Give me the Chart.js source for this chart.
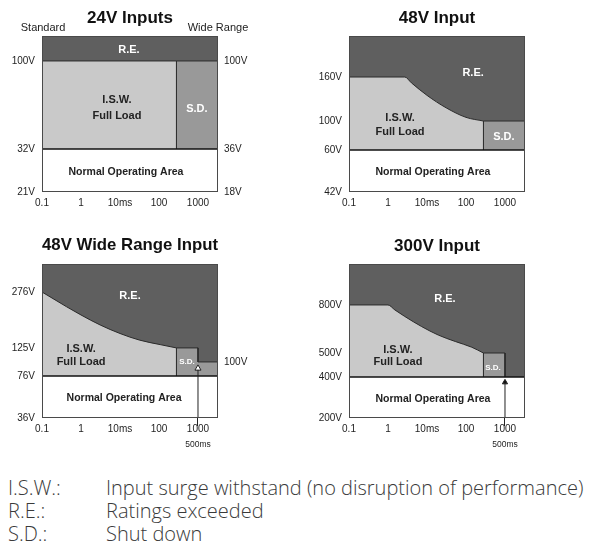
<!DOCTYPE html>
<html><head><meta charset="utf-8">
<title>Input surge withstand charts</title>
<script src="https://cdn.jsdelivr.net/npm/chart.js@4.4.1/dist/chart.umd.min.js"></script>
<style>
html,body{margin:0;padding:0;background:#fff}
body{width:590px;height:558px;position:relative;overflow:hidden}
canvas{position:absolute;display:block}
#legend{position:absolute;left:0;top:476px;width:590px;font-family:'Open Sans',sans-serif;font-weight:300;font-size:20px;line-height:23px;color:#3a3a3a}
.row{position:relative;height:23px;white-space:nowrap}
.k{position:absolute;left:8px;top:0}
.v{position:absolute;left:106px;top:0}
</style></head><body>
<canvas id="p1" width="260" height="215" style="left:0;top:0"></canvas>
<canvas id="p2" width="260" height="215" style="left:295px;top:0"></canvas>
<canvas id="p3" width="260" height="235" style="left:0;top:225px"></canvas>
<canvas id="p4" width="260" height="235" style="left:295px;top:225px"></canvas>
<div id="legend"></div>
<script>
// ---------- data ----------
const xTicks = [0.1, 1, 10, 100, 1000];
const xTickLabels = ['0.1', '1', '10ms', '100', '1000'];
const xMin = 0.1, xMax = 3260;

const titles = ['24V Inputs', '48V Input', '48V Wide Range Input', '300V Input'];

// 24V Inputs
const p1LeftTicks = [21, 32, 100];
const p1RightTicks = [18, 36, 100];
const p1Base = 32;
const p1IswX = [0.1, 280];
const p1IswY = [100, 100];
const p1SdX = [280, 280, 3260, 3260];
const p1SdY = [32, 100, 100, 32];

// 48V Input
const p2LeftTicks = [42, 60, 100, 160];
const p2Base = 60;
const p2IswX = [0.1, 2.7, 4, 10, 31, 100, 280];
const p2IswY = [160, 160, 152, 135, 118, 105, 100];
const p2SdX = [280, 280, 3260, 3260];
const p2SdY = [60, 100, 100, 60];

// 48V Wide Range Input
const p3LeftTicks = [36, 76, 125, 276];
const p3RightTicks = [100];
const p3Base = 76;
const p3IswX = [0.1, 0.43, 1, 3.1, 10, 32, 107, 280];
const p3IswY = [276, 236, 214, 187, 164, 146, 134, 125];
const p3SdX = [280, 280, 1000, 1000, 3260, 3260];
const p3SdY = [76, 125, 125, 100, 100, 76];
const p3ArrowX = [1000, 1000];
const p3ArrowY = [36, 89];

// 300V Input
const p4LeftTicks = [200, 400, 500, 800];
const p4Base = 400;
const p4IswX = [0.1, 1, 1.5, 2.7, 7.3, 19.5, 53, 141, 280];
const p4IswY = [800, 800, 769, 728, 665, 612, 572, 536, 500];
const p4SdX = [280, 280, 1000, 1000];
const p4SdY = [400, 500, 500, 400];
const p4ArrowX = [1000, 1000];
const p4ArrowY = [200, 374];

const legendKeys = ['I.S.W.:', 'R.E.:', 'S.D.:'];
const legendTexts = ['Input surge withstand (no disruption of performance)', 'Ratings exceeded', 'Shut down'];

// ---------- styling ----------
const COL = {re:'#5f5f5f', isw:'#c9c9c9', sd:'#999999', line:'#2b2b2b', base:'#111111', frame:'#4a4a4a', text:'#1e1e1e'};
const FONT = "'Liberation Sans', Arial, Helvetica, sans-serif";
Chart.defaults.font.family = FONT;
Chart.defaults.color = COL.text;

// piecewise-linear (schematic) value axis
class PiecewiseScale extends Chart.LinearScale {
  _dec(v) {
    const b = this.options.breaks;
    let i = 1;
    while (i < b.length - 1 && v > b[i][0]) i++;
    const v0 = b[i-1][0], d0 = b[i-1][1], v1 = b[i][0], d1 = b[i][1];
    return d0 + (v - v0) * (d1 - d0) / (v1 - v0);
  }
  getPixelForValue(value) {
    if (value === null || value === undefined || isNaN(value)) return NaN;
    return this.getPixelForDecimal(this._dec(value));
  }
  getValueForPixel(pixel) {
    const d = this.getDecimalForPixel(pixel);
    const b = this.options.breaks;
    let i = 1;
    while (i < b.length - 1 && d > b[i][1]) i++;
    const v0 = b[i-1][0], d0 = b[i-1][1], v1 = b[i][0], d1 = b[i][1];
    return v0 + (d - d0) * (v1 - v0) / (d1 - d0);
  }
}
PiecewiseScale.id = 'piecewise';
PiecewiseScale.defaults = {};
Chart.register(PiecewiseScale);

const decor = {
  id: 'decor',
  afterDatasetsDraw(chart, args, o) {
    const {ctx, chartArea: a} = chart;
    const w = a.right - a.left, h = a.bottom - a.top;
    ctx.save();
    ctx.strokeStyle = COL.frame; ctx.lineWidth = 1;
    ctx.strokeRect(Math.round(a.left) + 0.5, Math.round(a.top) + 0.5, Math.round(w) - 1, Math.round(h) - 1);
    ctx.textAlign = 'center'; ctx.textBaseline = 'middle';
    for (const t of (o.labels || [])) {
      ctx.font = t.font; ctx.fillStyle = t.color;
      ctx.fillText(t.text, a.left + t.fx * w, a.top + t.fy * h);
    }
    if (o.note) {
      ctx.font = '8.5px ' + FONT; ctx.fillStyle = COL.text;
      ctx.fillText(o.note.text, chart.scales.x.getPixelForValue(o.note.at), a.bottom + 26.5);
    }
    ctx.restore();
  }
};

const F_BIG = 'bold 11px ' + FONT, F_SMALL = 'bold 8px ' + FONT, F_NOA = 'bold 10.5px ' + FONT, F_SIDE = '11px ' + FONT;
const W = '#ffffff', D = '#222222';

function panel(id, p) {
  const pts = (xs, ys) => xs.map((x, i) => ({x, y: ys[i]}));
  const flat = y => [{x: xMin, y}, {x: xMax, y}];
  const ds = [];
  if (p.arrowX) ds.push({data: pts(p.arrowX, p.arrowY), borderColor: '#222', borderWidth: 1,
    pointRadius: [0, p.arrowR], pointStyle: 'triangle', pointBackgroundColor: p.arrowFill,
    pointBorderColor: '#222', pointBorderWidth: 1, fill: false, order: 0});
  ds.push({data: flat(p.base), borderColor: COL.base, borderWidth: 1.6, pointRadius: 0, fill: false, order: 1});
  ds.push({data: pts(p.sdX, p.sdY), backgroundColor: COL.sd, borderColor: COL.line, borderWidth: 1,
    pointRadius: 0, tension: 0, fill: {value: p.base}, order: 2});
  ds.push({data: pts(p.iswX, p.iswY), backgroundColor: COL.isw, borderColor: COL.line, borderWidth: 1,
    pointRadius: 0, cubicInterpolationMode: 'monotone', fill: {value: p.base}, order: 3});
  ds.push({data: flat(p.base), backgroundColor: COL.re, borderColor: 'rgba(0,0,0,0)', borderWidth: 0,
    pointRadius: 0, fill: 'end', order: 4});

  const yAxis = (ticks, breaks, pos, width, pad) => ({
    type: 'piecewise', position: pos, min: breaks[0][0], max: breaks[breaks.length - 1][0], breaks: breaks,
    afterBuildTicks: s => { s.ticks = ticks.map(v => ({value: v})); },
    afterFit: s => { s.width = width; },
    border: {display: false}, grid: {display: false, drawTicks: false},
    ticks: {autoSkip: false, padding: pad, font: {size: 10}, color: COL.text, callback: v => v + 'V'}
  });
  const scales = {
    x: {type: 'logarithmic', min: xMin, max: xMax,
      afterBuildTicks: s => { s.ticks = xTicks.map(v => ({value: v})); },
      afterFit: s => { s.height = p.xAxisH; },
      border: {display: false},
      grid: {drawOnChartArea: false, drawTicks: true, tickLength: 8, lineWidth: 1,
        color: c => (p.tickAt && c.tick && c.tick.value === p.tickAt) ? '#222' : 'rgba(0,0,0,0)'},
      ticks: {autoSkip: false, maxRotation: 0, padding: -2.5, font: {size: 10}, color: COL.text,
        callback: v => xTickLabels[xTicks.indexOf(v)]}
    },
    y: yAxis(p.leftTicks, p.breaks, 'left', p.leftW, 7)
  };
  if (p.rightTicks) scales.y2 = yAxis(p.rightTicks, p.rightBreaks, 'right', 42, 6);

  new Chart(document.getElementById(id), {
    type: 'line',
    data: {datasets: ds},
    options: {
      responsive: false, animation: false, events: [],
      layout: {padding: {right: p.padR || 0}},
      scales,
      plugins: {
        legend: {display: false}, tooltip: {enabled: false},
        title: {display: true, text: p.title, fullSize: false, color: '#111',
          font: {size: 17, weight: 'bold'}, padding: {top: p.tTop, bottom: p.tBot}},
        decor: {labels: p.labels, note: p.note}
      }
    },
    plugins: [decor]
  });
}

panel('p1', {
  title: titles[0], base: p1Base, iswX: p1IswX, iswY: p1IswY, sdX: p1SdX, sdY: p1SdY,
  leftTicks: p1LeftTicks, rightTicks: p1RightTicks,
  breaks: [[21, 0], [32, 0.276], [100, 0.84], [120, 1]],
  rightBreaks: [[18, 0], [36, 0.276], [100, 0.84], [120, 1]],
  leftW: 42, xAxisH: 23, tTop: 8, tBot: 7.6,
  labels: [
    {text: 'R.E.', fx: 0.494, fy: 0.09, font: F_BIG, color: W},
    {text: 'I.S.W.', fx: 0.426, fy: 0.41, font: F_BIG, color: D},
    {text: 'Full Load', fx: 0.426, fy: 0.513, font: F_BIG, color: D},
    {text: 'S.D.', fx: 0.88, fy: 0.468, font: F_BIG, color: W},
    {text: 'Normal Operating Area', fx: 0.477, fy: 0.872, font: F_NOA, color: D},
    {text: 'Standard', fx: 0.006, fy: -0.051, font: F_SIDE, color: D},
    {text: 'Wide Range', fx: 1.0, fy: -0.051, font: F_SIDE, color: D}
  ]
});

panel('p2', {
  title: titles[1], base: p2Base, iswX: p2IswX, iswY: p2IswY, sdX: p2SdX, sdY: p2SdY,
  leftTicks: p2LeftTicks,
  breaks: [[42, 0], [60, 0.269], [100, 0.455], [160, 0.737], [200, 1]],
  leftW: 54, padR: 30, xAxisH: 23, tTop: 8, tBot: 7.6,
  labels: [
    {text: 'R.E.', fx: 0.705, fy: 0.237, font: F_BIG, color: W},
    {text: 'I.S.W.', fx: 0.29, fy: 0.526, font: F_BIG, color: D},
    {text: 'Full Load', fx: 0.29, fy: 0.615, font: F_BIG, color: D},
    {text: 'S.D.', fx: 0.88, fy: 0.647, font: F_BIG, color: W},
    {text: 'Normal Operating Area', fx: 0.477, fy: 0.872, font: F_NOA, color: D}
  ]
});

panel('p3', {
  title: titles[2], base: p3Base, iswX: p3IswX, iswY: p3IswY, sdX: p3SdX, sdY: p3SdY,
  arrowX: p3ArrowX, arrowY: p3ArrowY, arrowR: 3.5, arrowFill: '#ffffff', tickAt: 1000,
  leftTicks: p3LeftTicks, rightTicks: p3RightTicks,
  breaks: [[36, 0], [76, 0.273], [100, 0.364], [125, 0.455], [276, 0.818], [330, 1]],
  rightBreaks: [[36, 0], [76, 0.273], [100, 0.364], [125, 0.455], [276, 0.818], [330, 1]],
  leftW: 42, xAxisH: 42, tTop: 10.3, tBot: 8.3,
  note: {text: '500ms', at: 1000},
  labels: [
    {text: 'R.E.', fx: 0.5, fy: 0.208, font: F_BIG, color: W},
    {text: 'I.S.W.', fx: 0.222, fy: 0.552, font: F_BIG, color: D},
    {text: 'Full Load', fx: 0.222, fy: 0.636, font: F_BIG, color: D},
    {text: 'S.D.', fx: 0.824, fy: 0.636, font: F_SMALL, color: W},
    {text: 'Normal Operating Area', fx: 0.466, fy: 0.87, font: F_NOA, color: D}
  ]
});

panel('p4', {
  title: titles[3], base: p4Base, iswX: p4IswX, iswY: p4IswY, sdX: p4SdX, sdY: p4SdY,
  arrowX: p4ArrowX, arrowY: p4ArrowY, arrowR: 3, arrowFill: '#111111', tickAt: 1000,
  leftTicks: p4LeftTicks,
  breaks: [[200, 0], [400, 0.266], [500, 0.422], [800, 0.734], [1000, 1]],
  leftW: 54, padR: 30, xAxisH: 42, tTop: 10.8, tBot: 7.8,
  note: {text: '500ms', at: 1000},
  labels: [
    {text: 'R.E.', fx: 0.545, fy: 0.227, font: F_BIG, color: W},
    {text: 'I.S.W.', fx: 0.278, fy: 0.558, font: F_BIG, color: D},
    {text: 'Full Load', fx: 0.278, fy: 0.636, font: F_BIG, color: D},
    {text: 'S.D.', fx: 0.818, fy: 0.675, font: F_SMALL, color: W},
    {text: 'Normal Operating Area', fx: 0.477, fy: 0.877, font: F_NOA, color: D}
  ]
});

// legend text
const lg = document.getElementById('legend');
legendKeys.forEach((k, i) => {
  const row = document.createElement('div'); row.className = 'row';
  const a = document.createElement('span'); a.className = 'k'; a.textContent = k;
  const b = document.createElement('span'); b.className = 'v'; b.textContent = legendTexts[i];
  row.appendChild(a); row.appendChild(b); lg.appendChild(row);
});
</script>
</body></html>
